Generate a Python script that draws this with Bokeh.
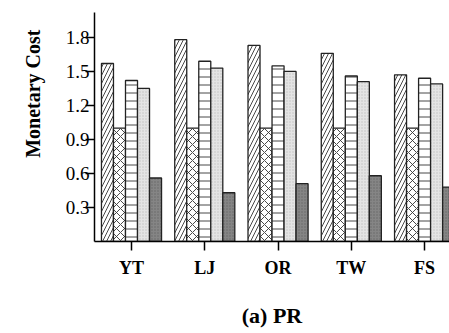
from bokeh.plotting import figure
from bokeh.models import FixedTicker, Title, Range1d
from bokeh.embed import file_html
from bokeh.resources import INLINE

categories = ["YT", "LJ", "OR", "TW", "FS"]
series_1 = [1.57, 1.78, 1.73, 1.66, 1.47]
series_2 = [1.00, 1.00, 1.00, 1.00, 1.00]
series_3 = [1.42, 1.59, 1.55, 1.46, 1.44]
series_4 = [1.35, 1.53, 1.50, 1.41, 1.39]
series_5 = [0.56, 0.43, 0.51, 0.58, 0.48]
y_ticks = [0.3, 0.6, 0.9, 1.2, 1.5, 1.8]
y_label = "Monetary Cost"
x_title = "(a) PR"

FONT = "Liberation Serif"

p = figure(width=449, height=333, output_backend="svg", toolbar_location=None,
           x_range=Range1d(-0.505, 4.34), y_range=Range1d(0, 2.02),
           min_border_left=0, min_border_top=12, min_border_right=0,
           min_border_bottom=92)
p.outline_line_color = None
p.grid.visible = False

bw = 0.164
styles = [
    dict(fill_color="white", hatch_pattern="/", hatch_scale=8, hatch_color="#333333", hatch_weight=0.9),
    dict(fill_color="white", hatch_pattern="x", hatch_scale=8, hatch_color="#333333", hatch_weight=0.9),
    dict(fill_color="white", hatch_pattern="-", hatch_scale=8, hatch_color="#333333", hatch_weight=0.9),
    dict(fill_color="#e4e4e4", hatch_pattern=".", hatch_scale=3, hatch_color="#c0c0c0", hatch_weight=0.5),
    dict(fill_color="#858585", hatch_pattern=".", hatch_scale=3, hatch_color="#666666", hatch_weight=0.5),
]
all_series = [series_1, series_2, series_3, series_4, series_5]
for j, (vals, st) in enumerate(zip(all_series, styles)):
    xs = [i + (j - 2) * bw for i in range(len(categories))]
    p.vbar(x=xs, top=vals, bottom=0, width=bw, line_color="#222222", line_width=1.3, **st)

p.xaxis.ticker = FixedTicker(ticks=list(range(len(categories))))
p.xaxis.major_label_overrides = {i: c for i, c in enumerate(categories)}
p.xaxis.major_label_text_font = FONT
p.xaxis.major_label_text_font_style = "bold"
p.xaxis.major_label_text_font_size = "18px"
p.xaxis.major_label_text_color = "black"
p.xaxis.major_label_standoff = 7
p.xaxis.major_tick_out = 9
p.xaxis.major_tick_in = 0
p.xaxis.minor_tick_line_color = None
p.xaxis.axis_label = x_title
p.xaxis.axis_label_text_font = FONT
p.xaxis.axis_label_text_font_style = "bold"
p.xaxis.axis_label_text_font_size = "22px"
p.xaxis.axis_label_text_color = "black"
p.xaxis.axis_label_standoff = 22

p.yaxis.ticker = FixedTicker(ticks=y_ticks)
p.yaxis.major_label_text_font = FONT
p.yaxis.major_label_text_font_size = "19px"
p.yaxis.major_label_text_color = "black"
p.yaxis.major_label_standoff = -4
p.yaxis.major_tick_out = 9
p.yaxis.major_tick_in = 0
p.yaxis.minor_tick_line_color = None

for ax in [p.xaxis[0], p.yaxis[0]]:
    ax.axis_line_color = "black"
    ax.axis_line_width = 1.5
    ax.major_tick_line_color = "black"
    ax.major_tick_line_width = 1.5

p.add_layout(Title(text=y_label, align="right", offset=17, standoff=38,
                   text_font=FONT, text_font_style="bold", text_font_size="20px",
                   text_color="black"), "left")

open("out.html", "w").write(file_html(p, INLINE))
